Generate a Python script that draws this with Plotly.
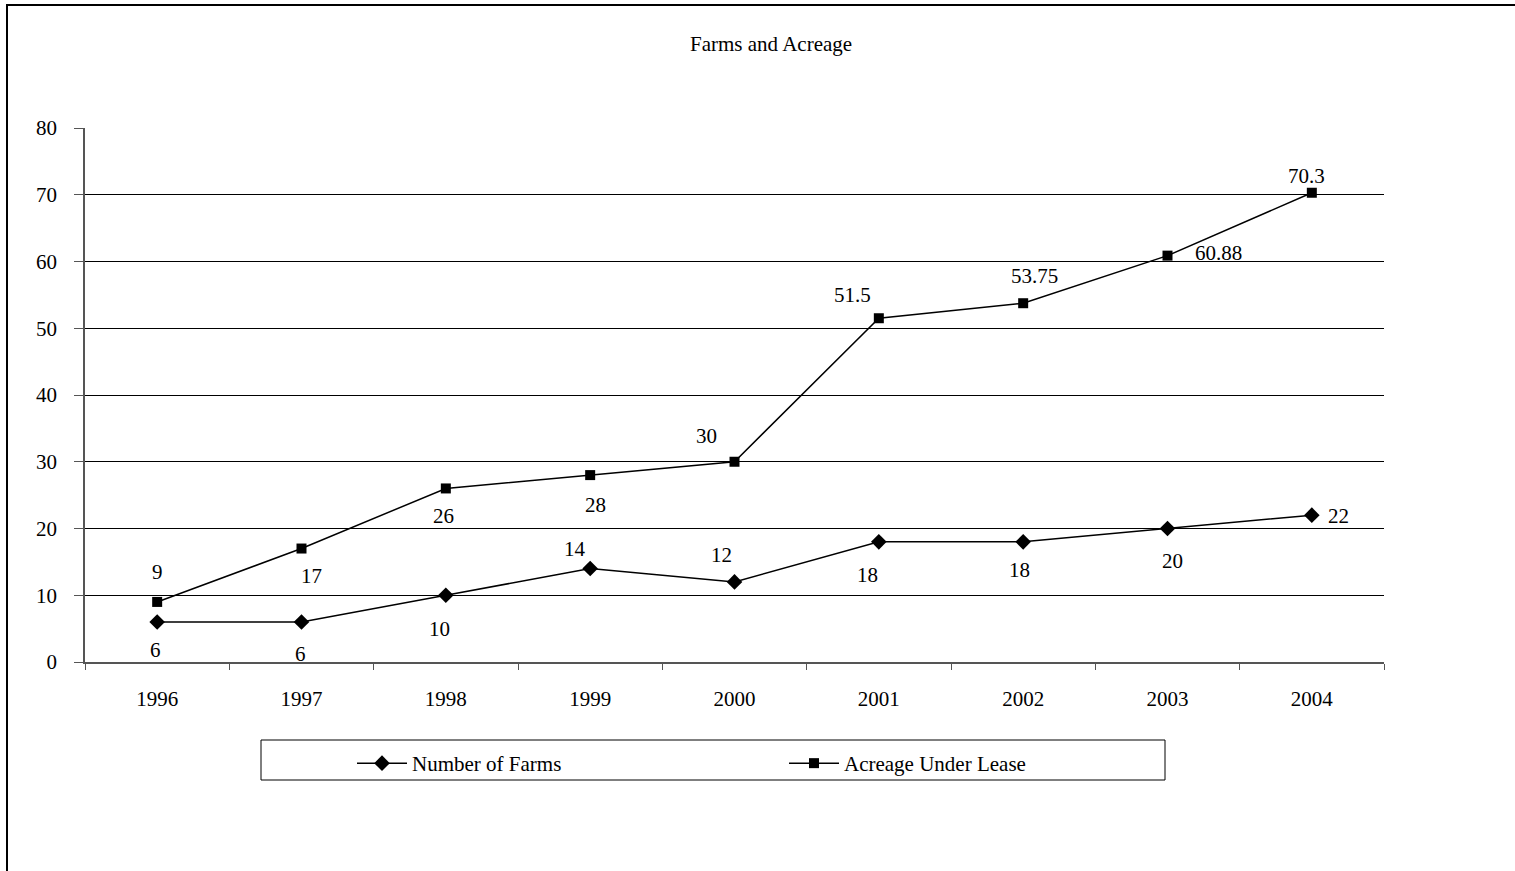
import plotly.graph_objects as go

# Series data
years = ["1996", "1997", "1998", "1999", "2000", "2001", "2002", "2003", "2004"]
farms = [6, 6, 10, 14, 12, 18, 18, 20, 22]
acreage = [9, 17, 26, 28, 30, 51.5, 53.75, 60.88, 70.3]
farm_labels = ["6", "6", "10", "14", "12", "18", "18", "20", "22"]
acreage_labels = ["9", "17", "26", "28", "30", "51.5", "53.75", "60.88", "70.3"]

# Label placement (pixel offsets from each point)
farm_dx = [-2, -1, -6, -15, -13, -11, -4, 5, 27]
farm_dy = [-28, -32, -34, 20, 27, -33, -28, -32, -1]
acre_dx = [0, 10, -2, 5, -28, -26, 11, 51, -5]
acre_dy = [30, -27, -28, -30, 26, 23, 27, 3, 17]

W, H = 1515, 871
L, R, T, B = 85, 1384, 128, 662
FONT = "Liberation Serif, Times New Roman, serif"
FS = 21

def px(x):
    return (x - L) / (R - L)

def py(y):
    return (B - y) / (B - T)

fig = go.Figure()
fig.add_trace(go.Scatter(
    x=years, y=farms, name="Number of Farms", mode="lines+markers",
    line=dict(color="black", width=1.5),
    marker=dict(symbol="diamond", size=12, color="black"),
))
fig.add_trace(go.Scatter(
    x=years, y=acreage, name="Acreage Under Lease", mode="lines+markers",
    line=dict(color="black", width=1.5),
    marker=dict(symbol="square", size=10, color="black"),
))

annotations = []
for ys, labels, dxs, dys in [
    (farms, farm_labels, farm_dx, farm_dy),
    (acreage, acreage_labels, acre_dx, acre_dy),
]:
    for i, (y, t, dx, dy) in enumerate(zip(ys, labels, dxs, dys)):
        annotations.append(dict(
            x=i, y=y, text=t, showarrow=False, xref="x", yref="y",
            xshift=dx, yshift=dy, font=dict(family=FONT, size=FS, color="black"),
        ))

annotations.append(dict(
    x=px(771), y=py(44), xref="paper", yref="paper", text="Farms and Acreage",
    xanchor="center", yanchor="middle",
    showarrow=False, font=dict(family=FONT, size=FS, color="black"),
))

shapes = [
    # outer frame
    dict(type="path", xref="paper", yref="paper",
         path=f"M {px(7)},{py(871)} L {px(7)},{py(5)} L {px(1515)},{py(5)}",
         line=dict(color="black", width=2)),
    # legend frame
    dict(type="rect", xref="paper", yref="paper",
         x0=px(261), x1=px(1165), y0=py(740), y1=py(780),
         line=dict(color="black", width=1)),
]

fig.update_layout(
    width=W, height=H,
    margin=dict(l=L, r=W - R, t=T, b=H - B),
    paper_bgcolor="white", plot_bgcolor="white",
    font=dict(family=FONT, size=FS, color="black"),
    showlegend=True,
    legend=dict(
        orientation="h", x=px(352), y=py(743), xanchor="left", yanchor="top",
        bgcolor="rgba(0,0,0,0)", borderwidth=0,
        font=dict(family=FONT, size=FS, color="black"),
        entrywidth=367, entrywidthmode="pixels",
        itemwidth=50,
    ),
    annotations=annotations,
    shapes=shapes,
)
fig.update_xaxes(
    type="category", range=[-0.5, 8.5], tickson="boundaries", ticks="outside", ticklen=6,
    tickcolor="#555", showline=True, linecolor="#555", linewidth=1.5,
    showgrid=False, zeroline=False, ticklabelstandoff=17, tickangle=0,
    tickfont=dict(family=FONT, size=FS),
)
fig.update_yaxes(
    range=[0, 80], dtick=10, ticks="outside", ticklen=9, tickcolor="#555",
    showline=True, linecolor="#555", linewidth=1.5,
    showgrid=True, gridcolor="black", gridwidth=1, zeroline=False,
    ticklabelstandoff=13, tickfont=dict(family=FONT, size=FS),
)

fig.write_html("out.html")
